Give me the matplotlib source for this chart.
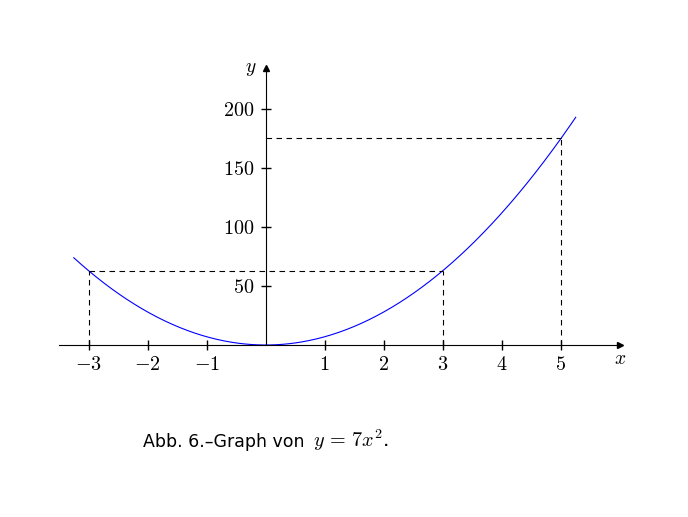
import matplotlib.pyplot as plt
import numpy as np

plt.rcParams['mathtext.fontset'] = 'cm'

# data
coef = 7
x_range = [-3.25, 5.25]
x_ticks = [-3, -2, -1, 1, 2, 3, 4, 5]
y_ticks = [50, 100, 150, 200]
x_marked = [-3, 3, 5]

fig = plt.figure(figsize=(6.88, 5.17), dpi=100)
ax = fig.add_axes([59 / 688, 1 - 345 / 517, 561 / 688, 277 / 517])
ax.set_xlim(-3.5, 6.0)
ax.set_ylim(0, 234.7)

# axes through the origin
for s in ['top', 'right']:
    ax.spines[s].set_visible(False)
ax.spines['left'].set_position(('data', 0))
ax.spines['bottom'].set_position(('data', 0))
ax.spines['left'].set_linewidth(0.8)
ax.spines['bottom'].set_linewidth(0.8)
ax.plot(6.0, 0, '>', color='black', ms=5, clip_on=False)
ax.plot(0, 234.7, '^', color='black', ms=5, clip_on=False)

ax.set_xticks(x_ticks)
ax.set_xticklabels([f'${t}$' if t > 0 else f'$-{-t}$' for t in x_ticks], fontsize=14.5)
ax.set_yticks(y_ticks)
ax.set_yticklabels([f'${t}$' for t in y_ticks], fontsize=14.5)
ax.tick_params(direction='inout', length=7, width=1)
ax.tick_params(axis='x', pad=4)
ax.tick_params(axis='y', pad=4.5)

ax.text(6.0, -3, '$x$', fontsize=14, ha='center', va='top')
ax.text(-0.15, 234.7, '$y$', fontsize=14, ha='right', va='center')

# parabola
x = np.linspace(x_range[0], x_range[1], 400)
ax.plot(x, coef * x ** 2, color='blue', lw=0.8, clip_on=False)

# dashed guides
dash = dict(color='black', lw=0.8, ls=(0, (5, 4)))
ya = coef * x_marked[0] ** 2
ax.plot([x_marked[0], x_marked[0]], [0, ya], **dash)
ax.plot([x_marked[0], x_marked[1]], [ya, ya], **dash)
ax.plot([x_marked[1], x_marked[1]], [0, ya], **dash)
yb = coef * x_marked[2] ** 2
ax.plot([0, x_marked[2]], [yb, yb], **dash)
ax.plot([x_marked[2], x_marked[2]], [0, yb], **dash)

fig.text(143 / 688, 1 - 447 / 517, 'Abb. 6.–Graph von', fontsize=12.5,
         ha='left', va='baseline')
fig.text(313 / 688, 1 - 447 / 517, r'$y\,=\,7x^2$.', fontsize=14.5,
         ha='left', va='baseline')

fig.savefig('out.png', dpi=100)
